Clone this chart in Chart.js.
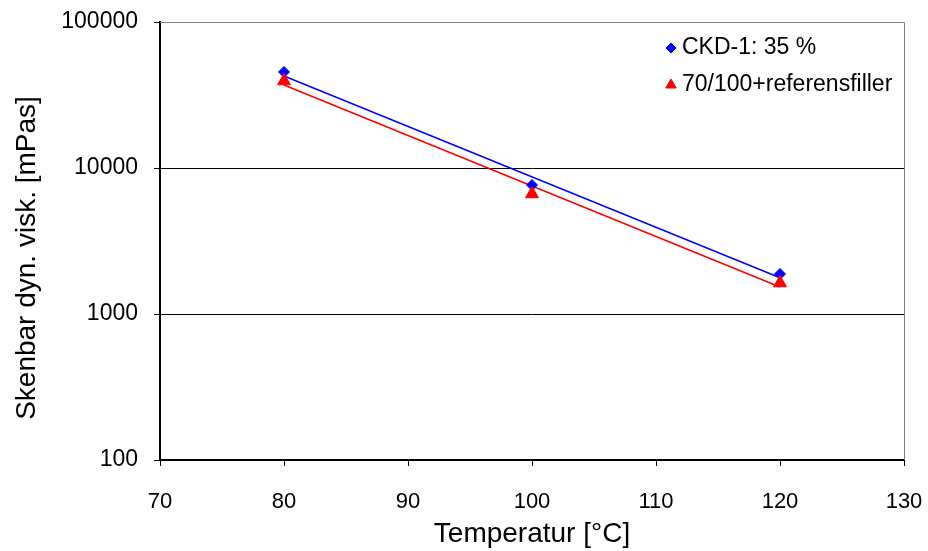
<!DOCTYPE html>
<html>
<head>
<meta charset="utf-8">
<script src="https://cdn.jsdelivr.net/npm/chart.js@4/dist/chart.umd.min.js"></script>
<style>
  html, body { margin: 0; padding: 0; background: #fff; }
  #wrap { width: 928px; height: 551px; }
</style>
</head>
<body>
<div id="wrap"><canvas id="chart" width="928" height="551"></canvas></div>
<script>
// data
const temps = [80, 100, 120];
const ckdVisc = [45500, 7650, 1880];
const refVisc = [39400, 6640, 1630];
// exponential trendlines (endpoints)
const trendX = [80, 120];
const ckdTrend = [42700, 1770];
const refTrend = [37000, 1530];
const xTicks = [70, 80, 90, 100, 110, 120, 130];
const yTicks = [100, 1000, 10000, 100000];

const FONT = '"Liberation Sans", Arial, sans-serif';
const pts = (xs, ys) => xs.map((x, i) => ({ x, y: ys[i] }));

// legend inside plot + y title + plot frame
const extras = {
  id: 'extras',
  afterDraw(chart) {
    const { ctx, chartArea: a } = chart;
    ctx.save();
    // grey frame top/right
    ctx.strokeStyle = '#808080';
    ctx.lineWidth = 1;
    ctx.beginPath();
    ctx.moveTo(a.left, a.top + 0.5);
    ctx.lineTo(a.right + 0.5, a.top + 0.5);
    ctx.lineTo(a.right + 0.5, a.bottom);
    ctx.stroke();

    // legend
    const items = [
      { text: 'CKD-1: 35 %', style: 'rectRot', color: '#0000ff', r: 5, y: 48 },
      { text: '70/100+referensfiller', style: 'triangle', color: '#ff0000', r: 6, y: 85 },
    ];
    ctx.font = '23px ' + FONT;
    ctx.textBaseline = 'middle';
    ctx.textAlign = 'left';
    items.forEach((it) => {
      ctx.fillStyle = it.color;
      ctx.strokeStyle = it.color;
      Chart.helpers.drawPoint(ctx, { pointStyle: it.style, radius: it.r, rotation: 0, borderWidth: 1 }, 671, it.y);
      ctx.fillStyle = '#000';
      ctx.fillText(it.text, 682, it.y);
    });

    // y axis title
    ctx.translate(27, 258);
    ctx.rotate(-Math.PI / 2);
    ctx.textAlign = 'center';
    ctx.font = '28px ' + FONT;
    ctx.fillStyle = '#000';
    ctx.fillText('Skenbar dyn. visk. [mPas]', 0, 0);
    ctx.restore();
  },
};

new Chart(document.getElementById('chart'), {
  type: 'scatter',
  data: {
    datasets: [
      { label: '70/100+referensfiller', data: pts(temps, refVisc), pointStyle: 'triangle', pointRadius: 7.5, backgroundColor: '#ff0000', borderColor: '#ff0000', borderWidth: 1, order: 0 },
      { label: 'CKD-1: 35 %', data: pts(temps, ckdVisc), pointStyle: 'rectRot', pointRadius: 5.5, backgroundColor: '#0000ff', borderColor: '#0000ff', borderWidth: 1, order: 1 },
      { label: 'ref trend', data: pts(trendX, refTrend), showLine: true, pointRadius: 0, borderColor: '#ff0000', borderWidth: 1.5, order: 2 },
      { label: 'ckd trend', data: pts(trendX, ckdTrend), showLine: true, pointRadius: 0, borderColor: '#0000ff', borderWidth: 1.5, order: 3 },
    ],
  },
  options: {
    responsive: false,
    animation: false,
    layout: { padding: { left: 0, top: 22, right: 24, bottom: 0 } },
    plugins: { legend: { display: false }, tooltip: { enabled: false } },
    scales: {
      x: {
        type: 'linear', min: 70, max: 130,
        afterBuildTicks: (s) => { s.ticks = xTicks.map((v) => ({ value: v })); },
        afterFit: (s) => { s.height = 91; s.paddingLeft = 0; s.paddingRight = 0; },
        grid: { drawOnChartArea: false, tickLength: 6, tickColor: '#000', tickWidth: 1 },
        border: { color: '#000', width: 2 },
        ticks: { color: '#000', padding: 23, font: { family: FONT, size: 22 }, maxRotation: 0 },
        title: { display: true, text: 'Temperatur [°C]', color: '#000', font: { family: FONT, size: 28 }, padding: { top: 0, bottom: 0 } },
      },
      y: {
        type: 'logarithmic', min: 100, max: 100000,
        afterBuildTicks: (s) => { s.ticks = yTicks.map((v) => ({ value: v })); },
        afterFit: (s) => { s.width = 160; s.paddingTop = 0; s.paddingBottom = 0; },
        grid: {
          color: (c) => (c.tick && c.tick.value === 100000 ? '#808080' : '#000'),
          tickColor: '#000', tickLength: 6, lineWidth: 1,
        },
        border: { color: '#000', width: 2 },
        ticks: { color: '#000', padding: 16, font: { family: FONT, size: 23 }, callback: (v) => String(v) },
      },
    },
  },
  plugins: [extras],
});
</script>
</body>
</html>
